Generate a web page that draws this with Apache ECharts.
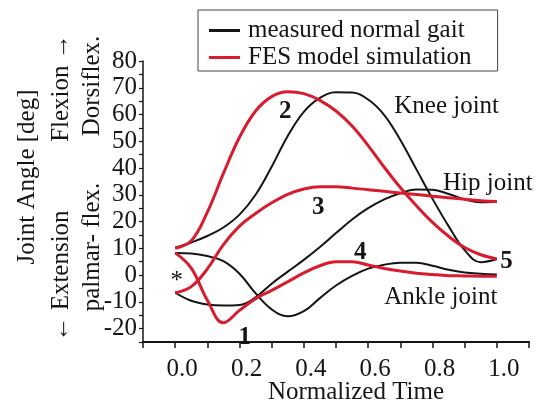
<!DOCTYPE html>
<html><head><meta charset="utf-8">
<script src="https://cdn.jsdelivr.net/npm/echarts@6/dist/echarts.min.js"></script>
<style>html,body{margin:0;padding:0;background:#fff}#c{width:544px;height:405px}</style>
</head><body><div id="c"></div>
<script>
// ---- data ----
const time = [0,0.05,0.1,0.15,0.2,0.25,0.3,0.35,0.4,0.45,0.5,0.55,0.6,0.65,0.7,0.75,0.8,0.85,0.9,0.95,1.0];
const kneeMeasured  = [10.2,12.2,14.6,17.8,22.6,30,40.5,52,61,66.2,68.3,68.2,65.6,59.8,50.5,39.5,28.5,18.3,9.3,4.8,6];
const kneeSim       = [10,12.8,23.5,38,51.5,61.3,66.7,68.5,67.8,65.3,61.3,55.7,48.4,40.3,32.7,25.9,19.7,14.5,10.3,7.6,6];
const hipMeasured   = [-6.6,-9.6,-11,-11.4,-11.2,-8.3,-3.2,1.3,5.7,10.5,15.7,20.8,25,28.3,30.6,32,31.9,30.3,28.3,27.2,27.4];
const hipSim        = [-6.6,-4.3,2.3,11.4,18.3,23,27,30.2,32.2,33,33,32.5,31.9,31.3,30.7,30.1,29.5,28.9,28.3,27.8,27.5];
const ankleMeasured = [8.3,8.1,7.1,5.2,0.5,-6.8,-12.8,-15.4,-13.5,-8.6,-3.9,-0.3,2.4,3.9,4.6,4.6,3.5,2,1,0.5,0.2];
const ankleSim      = [8.3,2.6,-9.4,-17.8,-13.2,-8.8,-5.7,-2.5,0.8,3.5,5,5,3.8,2.5,1.5,0.7,0.2,-0.2,-0.3,-0.4,-0.4];
const xTickLabels = ['0.0','0.2','0.4','0.6','0.8','1.0'];
const yTickLabels = ['-20','-10','0','10','20','30','40','50','60','70','80'];
const legendNames = ['measured normal gait','FES model simulation'];
// annotation texts and their anchor in data units [time, angle]
const annoTexts   = ['*','1','2','3','4','5','Knee joint','Hip joint','Ankle joint'];
const annoAnchors = [[0.005,-2.4],[0.216,-23.5],[0.342,61.1],[0.445,25.1],[0.575,8.3],[1.03,5.1],[0.844,63],[0.972,34.4],[0.826,-8.5]];

// ---- styles ----
const FONT = 'Liberation Serif';
const BLACK = '#151515', RED = '#d81c2e';
const pairs = arr => time.map((t,i)=>[t,arr[i]]);
function line(name, arr, color, width, z){
  return {type:'line', name, data:pairs(arr), smooth:0.4, symbol:'none', z,
    lineStyle:{color, width}, itemStyle:{color}, emphasis:{disabled:true}};
}
const chart = echarts.init(document.getElementById('c'), null, {renderer:'canvas'});
const boldSet = new Set(['1','2','3','4','5']);
chart.setOption({
  animation:false,
  backgroundColor:'#fff',
  grid:{left:143, right:15, top:61, bottom:63, containLabel:false},
  legend:{
    data:legendNames, orient:'vertical', left:198, top:10,
    padding:[8,26,1,11], itemGap:2, itemWidth:31, itemHeight:3, icon:'rect',
    borderColor:'#444', borderWidth:1, selectedMode:false,
    textStyle:{fontFamily:FONT, fontSize:25, color:BLACK, padding:[0,0,0,3]}
  },
  xAxis:{
    type:'value', min:-0.1, max:1.1, interval:0.1,
    axisLine:{onZero:false, lineStyle:{color:BLACK, width:2}},
    axisTick:{length:6, lineStyle:{color:BLACK, width:1.5}},
    splitLine:{show:false},
    axisLabel:{margin:15, fontFamily:FONT, fontSize:25, color:BLACK, padding:[0,0,0,14],
      formatter:v=>{const s=(Math.round(v*10)/10).toFixed(1); return xTickLabels.includes(s)?s:'';}}
  },
  yAxis:{
    type:'value', min:-25, max:80, interval:5,
    axisLine:{show:true, onZero:false, lineStyle:{color:BLACK, width:1.5}},
    axisTick:{show:true, length:4, lineStyle:{color:BLACK, width:1.2}},
    splitLine:{show:false},
    axisLabel:{margin:6, fontFamily:FONT, fontSize:25, color:BLACK,
      formatter:v=>{const s=String(Math.round(v)); return yTickLabels.includes(s)?s:'';}}
  },
  series:[
    line(legendNames[0], kneeMeasured, BLACK, 2, 2),
    line(legendNames[0], hipMeasured, BLACK, 2, 2),
    line(legendNames[0], ankleMeasured, BLACK, 2, 2),
    line(legendNames[1], kneeSim, RED, 3, 3),
    line(legendNames[1], hipSim, RED, 3, 3),
    line(legendNames[1], ankleSim, RED, 3, 3),
    {type:'scatter', name:'annotations', silent:true, z:5, symbolSize:0,
     itemStyle:{opacity:1, color:BLACK},
     data:annoTexts.map((t,i)=>({value:annoAnchors[i], label:{formatter:t, fontWeight:boldSet.has(t)?'bold':'normal'}})),
     label:{show:true, position:'inside', fontFamily:FONT, fontSize:25, color:BLACK, opacity:1}}
  ],
  graphic:[
    {type:'text', x:27, y:177, rotation:Math.PI/2, style:{text:'Joint Angle [deg]', fontFamily:FONT, fontSize:25, fill:BLACK, align:'center', verticalAlign:'middle'}},
    {type:'text', x:61, y:88, rotation:Math.PI/2, style:{text:'Flexion \u2192', fontFamily:FONT, fontSize:25, fill:BLACK, align:'center', verticalAlign:'middle'}},
    {type:'text', x:61, y:276, rotation:Math.PI/2, style:{text:'\u2190 Extension', fontFamily:FONT, fontSize:25, fill:BLACK, align:'center', verticalAlign:'middle'}},
    {type:'text', x:92, y:86, rotation:Math.PI/2, style:{text:'Dorsiflex.', fontFamily:FONT, fontSize:25, fill:BLACK, align:'center', verticalAlign:'middle'}},
    {type:'text', x:92, y:247, rotation:Math.PI/2, style:{text:'palmar- flex.', fontFamily:FONT, fontSize:25, fill:BLACK, align:'center', verticalAlign:'middle'}},
    {type:'text', x:356, y:392, style:{text:'Normalized Time', fontFamily:FONT, fontSize:25, fill:BLACK, align:'center', verticalAlign:'middle'}}
  ]
});
</script></body></html>
